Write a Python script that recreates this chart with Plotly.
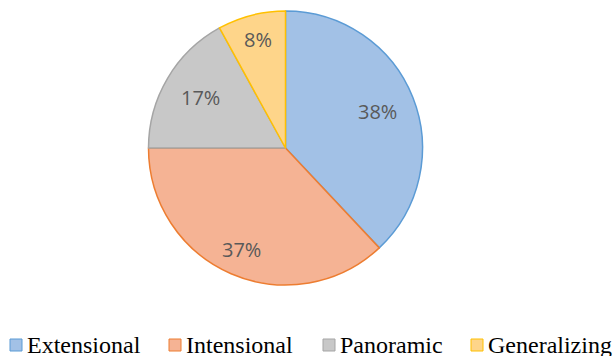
import math
import plotly.graph_objects as go

categories = ["Extensional", "Intensional", "Panoramic", "Generalizing"]
values = [38, 37, 17, 8]
fill_colors = ["#A2C1E6", "#F5B394", "#C8C8C8", "#FED58A"]
line_colors = ["#5B9BD5", "#ED7D31", "#A5A5A5", "#FFC000"]
label_radius = [0.72, 0.81, 0.72, 0.82]      # fraction of pie radius for labels
legend_x = [10, 169, 323, 471]               # legend entry left edges (px)

W, H = 614, 356
cx, cy, r = 285.5, 148, 137

fig = go.Figure(go.Pie(
    labels=categories,
    values=values,
    sort=False,
    direction="clockwise",
    rotation=0,
    marker=dict(colors=fill_colors, line=dict(color=line_colors, width=1.5)),
    textinfo="none",
    hoverinfo="label+percent",
    showlegend=False,
    domain=dict(x=[(cx - r) / W, (cx + r) / W], y=[(H - cy - r) / H, (H - cy + r) / H]),
))

# percentage labels placed at slice mid-angles
total = sum(values)
cum = 0
for v, rf in zip(values, label_radius):
    mid = (cum + v / 2) / total * 2 * math.pi
    cum += v
    px = cx + rf * r * math.sin(mid)
    py = cy - rf * r * math.cos(mid)
    fig.add_annotation(
        x=px / W, y=1 - py / H, xref="paper", yref="paper",
        text=f"{round(v / total * 100)}%", showarrow=False,
        font=dict(family="Open Sans, Noto Sans, sans-serif", size=20, color="#595959"),
        xanchor="center", yanchor="middle",
    )

# legend row at the bottom
sq = 12
ly = 345
for name, fc, lc, lx in zip(categories, fill_colors, line_colors, legend_x):
    fig.add_shape(
        type="rect", xref="paper", yref="paper",
        x0=lx / W, x1=(lx + sq) / W, y0=1 - (ly - sq / 2) / H, y1=1 - (ly + sq / 2) / H,
        fillcolor=fc, line=dict(color=lc, width=1),
    )
    fig.add_annotation(
        x=(lx + sq + 4) / W, y=1 - ly / H, xref="paper", yref="paper",
        text=name, showarrow=False, xanchor="left", yanchor="middle",
        font=dict(family="Liberation Serif, Times New Roman, serif", size=24, color="#000000"),
        borderpad=0,
    )

fig.update_layout(
    width=W, height=H,
    margin=dict(l=0, r=0, t=0, b=0),
    paper_bgcolor="white",
    showlegend=False,
)

fig.write_html("out.html")
